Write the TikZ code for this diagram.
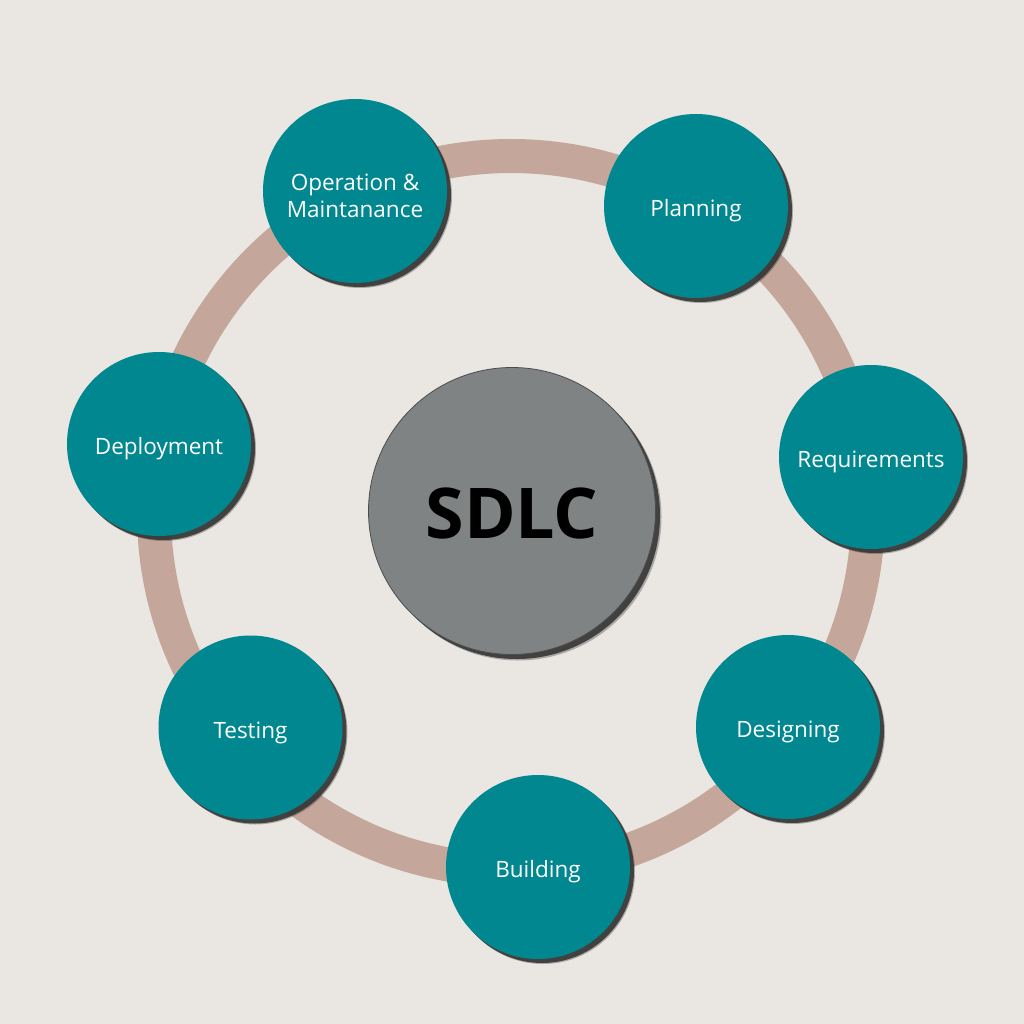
\documentclass[tikz,border=0pt]{standalone}
\usepackage{fontspec}
\setmainfont{Open Sans}
\usetikzlibrary{shadows}
\definecolor{bgc}{HTML}{EAE6E1}
\definecolor{ringc}{HTML}{C4A79A}
\definecolor{tealc}{HTML}{00878F}
\definecolor{grayc}{HTML}{7F8384}
\definecolor{shadc}{HTML}{363636}
\tikzset{
  phase/.style={circle, fill=tealc, minimum size=184pt, inner sep=0pt,
    drop shadow={shadow xshift=5pt, shadow yshift=-5pt, fill=shadc, opacity=0.35},
    drop shadow={shadow xshift=4pt, shadow yshift=-4pt, fill=shadc, opacity=0.9}},
  phasetext/.style={text=white, align=center, font=\fontsize{22.5}{27}\selectfont, yshift=-5pt},
  hub/.style={circle, fill=grayc, draw=black!70, line width=0.8pt, minimum size=287pt, inner sep=0pt,
    drop shadow={shadow xshift=6pt, shadow yshift=-6pt, fill=shadc, opacity=0.35},
    drop shadow={shadow xshift=4.5pt, shadow yshift=-4.5pt, fill=shadc, opacity=0.9}},
  hubtext/.style={text=black, font=\fontsize{70}{80}\selectfont\bfseries, yshift=-2pt},
  ringline/.style={draw=ringc, line width=34pt}
}
\begin{document}
\begin{tikzpicture}[x=1pt, y=-1pt]
\fill[bgc] (0,0) rectangle (1024,1024);
\useasboundingbox (0,0) rectangle (1024,1024);
\coordinate (rc) at (511,513);
\draw[ringline] (rc) circle[radius=357];
\node[hub, label={[hubtext]center:SDLC}] (sdlc) at (512,511) {};
\node[phase, label={[phasetext]center:Operation \&\\Maintanance}] (op) at (355,191) {};
\node[phase, label={[phasetext]center:Planning}] (plan) at (696,206) {};
\node[phase, label={[phasetext]center:Requirements}] (req) at (871,457) {};
\node[phase, label={[phasetext]center:Designing}] (des) at (788,727) {};
\node[phase, label={[phasetext]center:Building}] (build) at (538,867) {};
\node[phase, label={[phasetext]center:Testing}] (test) at (250.5,727.5) {};
\node[phase, label={[phasetext]center:Deployment}] (dep) at (159,444) {};
\end{tikzpicture}
\end{document}
